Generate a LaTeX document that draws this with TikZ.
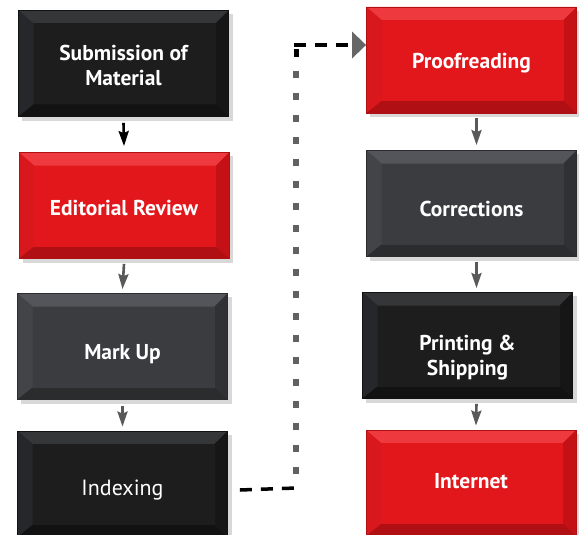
\documentclass[tikz,border=0pt]{standalone}
\usepackage{fontspec}
\setmainfont{PT Sans}
\usetikzlibrary{arrows.meta,backgrounds,calc}
\definecolor{redface}{HTML}{E2171C}
\definecolor{redtop}{HTML}{EE3A3E}
\definecolor{redleft}{HTML}{D8181C}
\definecolor{redright}{HTML}{C41115}
\definecolor{redbot}{HTML}{B00F13}
\definecolor{blkface}{HTML}{1D1D1E}
\definecolor{blktop}{HTML}{353638}
\definecolor{blkleft}{HTML}{26272A}
\definecolor{blkright}{HTML}{161617}
\definecolor{blkbot}{HTML}{121213}
\definecolor{gryface}{HTML}{3B3C3F}
\definecolor{grytop}{HTML}{54555A}
\definecolor{gryleft}{HTML}{434447}
\definecolor{gryright}{HTML}{303134}
\definecolor{grybot}{HTML}{2B2C2E}
\tikzset{
  stepbox/.style={minimum width=210pt, minimum height=106pt, inner sep=0pt},
  steptext/.style={inner sep=0pt, text=white, align=center,
    font=\fontsize{21.5}{25}\selectfont\bfseries},
  bevel/.style n args={5}{fill=#5, draw=#4, line width=0.8pt, path picture={
    \coordinate (pnw) at (path picture bounding box.north west);
    \coordinate (pne) at (path picture bounding box.north east);
    \coordinate (psw) at (path picture bounding box.south west);
    \coordinate (pse) at (path picture bounding box.south east);
    \coordinate (inw) at ([shift={(15pt,-13pt)}]pnw);
    \coordinate (ine) at ([shift={(-13pt,-13pt)}]pne);
    \coordinate (isw) at ([shift={(15pt,12pt)}]psw);
    \coordinate (ise) at ([shift={(-13pt,12pt)}]pse);
    \fill[#1] (pnw) -- (pne) -- (ine) -- (inw) -- cycle;
    \fill[#2] (pnw) -- (inw) -- (isw) -- (psw) -- cycle;
    \fill[#3] (pne) -- (pse) -- (ise) -- (ine) -- cycle;
    \fill[#4] (psw) -- (isw) -- (ise) -- (pse) -- cycle;
    \fill[#5] (inw) rectangle (ise);
  }},
  redbox/.style={stepbox, bevel={redtop}{redleft}{redright}{redbot}{redface}},
  blackbox/.style={stepbox, bevel={blktop}{blkleft}{blkright}{blkbot}{blkface}},
  graybox/.style={stepbox, bevel={grytop}{gryleft}{gryright}{grybot}{gryface}},
  shade box/.style={fill=black!30, opacity=0.5},
  flow/.style={line width=2.6pt, draw=#1,
    -{Stealth[length=15pt, width=10pt, inset=2pt, color=#1]}},
  hdash/.style={line width=3.5pt, dash pattern=on 12pt off 9pt},
  vdash/.style={line width=6.5pt, draw=black!62, dash pattern=on 7pt off 15pt},
}
\begin{document}
\begin{tikzpicture}[x=1pt, y=-1pt]
\useasboundingbox (0,0) rectangle (579,535);
% boxes
\node[blackbox] (b1) at (123.5,63.5) {};
\node[redbox]   (b2) at (124,205.5) {};
\node[graybox]  (b3) at (122.5,346.5) {};
\node[blackbox] (b4) at (122.5,484) {};
\node[redbox]   (b5) at (471.5,60) {};
\node[graybox]  (b6) at (471.5,203.5) {};
\node[blackbox] (b7) at (467.5,345.5) {};
\node[redbox]   (b8) at (471,483) {};
% texts
\node[steptext] (t1) at ([yshift=-2pt]b1) {Submission of\\Material};
\node[steptext] (t2) at ([yshift=-3pt]b2) {Editorial Review};
\node[steptext] (t3) at ([yshift=-8pt]b3) {Mark Up};
\node[steptext, font=\fontsize{22}{25}\selectfont] (t4) at ([yshift=-6pt]b4) {Indexing};
\node[steptext] (t5) at ([yshift=-3pt]b5) {Proofreading};
\node[steptext] (t6) at ([yshift=-5pt]b6) {Corrections};
\node[steptext] (t7) at ([yshift=-12pt]b7) {Printing \&\\Shipping};
\node[steptext] (t8) at ([yshift=2pt]b8) {Internet};
% shadows
\begin{scope}[on background layer]
  \foreach \b in {b1,b2,b3,b4,b5,b6,b7,b8}
    \fill[shade box] ([shift={(4pt,-4pt)}]\b.south west) rectangle ([shift={(4pt,-4pt)}]\b.north east);
\end{scope}
% arrows
\draw[flow=black] ([yshift=-6pt]b1.south) -- ([yshift=6pt]b2.north);
\draw[flow=black!65] ([yshift=-5pt]b2.south) -- ([yshift=4pt]b3.north);
\draw[flow=black!65] ([yshift=-6pt]b3.south) -- ([yshift=4pt]b4.north);
\draw[flow=black!65] ([shift={(5pt,-5pt)}]b5.south) -- ([shift={(5pt,5pt)}]b6.north);
\draw[flow=black!65] ([shift={(5pt,-5pt)}]b6.south) -- ([shift={(9pt,4pt)}]b7.north);
\draw[flow=black!65] ([shift={(9pt,-5pt)}]b7.south) -- ([shift={(5pt,4pt)}]b8.north);
% dashed connector
\coordinate (c1) at ([shift={(12pt,-6pt)}]b4.east);
\coordinate (c2) at (296,488);
\coordinate (c3) at (296,45);
\coordinate (c4) at ([yshift=15pt]b5.west);
\draw[hdash] (c1) -- (c2);
\draw[vdash] ([yshift=14pt]c2) -- ([yshift=-18pt]c3);
\draw[line width=5pt] ([yshift=-4pt]c3) -- ([yshift=-12pt]c3);
\draw[hdash, -{Triangle[length=14pt, width=26pt, color=black!60]}] ([xshift=-2.5pt]c3) -- (c4);
\end{tikzpicture}
\end{document}
